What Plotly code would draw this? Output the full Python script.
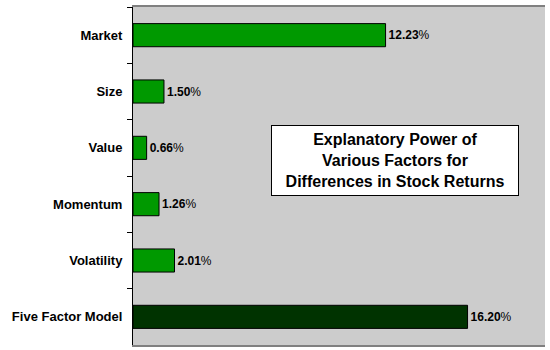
import plotly.graph_objects as go

factors = ["Market", "Size", "Value", "Momentum", "Volatility", "Five Factor Model"]
values = [12.23, 1.50, 0.66, 1.26, 2.01, 16.20]
bar_colors = ["#009900", "#009900", "#009900", "#009900", "#009900", "#003300"]
title_text = "Explanatory Power of<br>Various Factors for<br>Differences in Stock Returns"

fig = go.Figure()
fig.add_trace(go.Bar(
    x=values, y=factors, orientation="h",
    marker=dict(color=bar_colors, line=dict(color="black", width=1)),
    width=0.41,
    text=[f"<b>{v:.2f}</b>%" for v in values],
    textposition="outside",
    textfont=dict(family="Liberation Sans, Arial", size=12, color="black"),
    cliponaxis=False,
))

fig.update_layout(
    width=550, height=350,
    margin=dict(l=133, r=5, t=5, b=5),
    paper_bgcolor="white",
    plot_bgcolor="#CCCCCC",
    showlegend=False,
    xaxis=dict(range=[0, 19.95], showticklabels=False, showgrid=False, zeroline=False,
               showline=True, linecolor="#808080", linewidth=2, mirror=True, ticks=""),
    yaxis=dict(autorange="reversed", showgrid=False, zeroline=False,
               showline=True, linecolor="black", linewidth=1,
               ticks="outside", ticklen=5, tickcolor="black", tickson="boundaries",
               tickfont=dict(family="Liberation Sans, Arial", size=13, color="black", weight="bold"),
               ticklabelstandoff=7),
    annotations=[dict(
        xref="paper", yref="paper", x=0.636, y=0.546, xanchor="center", yanchor="middle",
        text=title_text, showarrow=False,
        font=dict(family="Liberation Sans, Arial", size=16, color="black", weight="bold"),
        bgcolor="white", bordercolor="black", borderwidth=1, borderpad=5, width=236,
    )],
)
fig.write_html("out.html")
